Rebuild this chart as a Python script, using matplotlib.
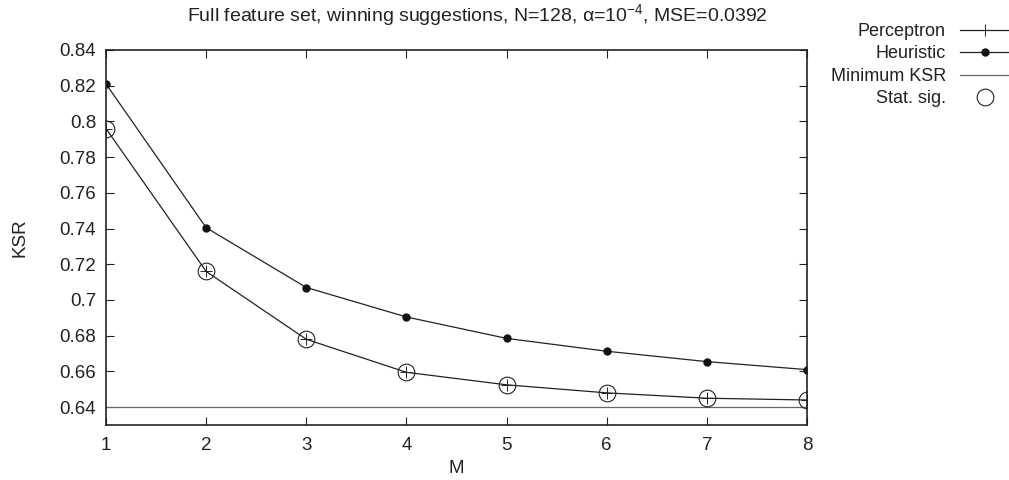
import matplotlib
matplotlib.use("Agg")
import matplotlib.pyplot as plt

plt.rcParams['font.family'] = ['Liberation Sans', 'DejaVu Sans']
plt.rcParams['mathtext.fontset'] = 'custom'
plt.rcParams['mathtext.rm'] = 'Liberation Sans'
plt.rcParams['mathtext.it'] = 'Liberation Sans:italic'

M = [1, 2, 3, 4, 5, 6, 7, 8]
perceptron = [0.796, 0.716, 0.678, 0.6595, 0.6525, 0.648, 0.645, 0.644]
heuristic = [0.821, 0.7405, 0.707, 0.6905, 0.6785, 0.6713, 0.6655, 0.661]
min_ksr = 0.6402
yticks = [0.64, 0.66, 0.68, 0.70, 0.72, 0.74, 0.76, 0.78, 0.80, 0.82, 0.84]
ytick_labels = ['0.64', '0.66', '0.68', '0.7', '0.72', '0.74', '0.76', '0.78', '0.8', '0.82', '0.84']

fig = plt.figure(figsize=(10.09, 4.8), dpi=100)
ax = fig.add_axes([106/1009, 1-425/480, (807-106)/1009, (425-50)/480])

ink = '#222222'
lw = 0.9
ax.plot(M, perceptron, color=ink, lw=lw, marker='+', markersize=8, markeredgewidth=0.7, label='Perceptron')
ax.plot(M, heuristic, color=ink, lw=lw, marker='o', markersize=5, markerfacecolor='#111111',
        markeredgecolor='#111111', label='Heuristic')
ax.plot([M[0], M[-1]], [min_ksr, min_ksr], color='#666666', lw=lw, label='Minimum KSR')
ax.plot(M, perceptron, linestyle='none', marker='o', markersize=12, markerfacecolor='none',
        markeredgecolor=ink, markeredgewidth=0.8, label='Stat. sig.')

ax.set_xlim(1, 8)
ax.set_ylim(0.63, 0.84)
ax.set_xticks(M)
ax.set_yticks(yticks)
ax.set_yticklabels(ytick_labels)
ax.tick_params(direction='in', top=True, right=True, length=6, width=0.8, labelsize=13.5, colors=ink)
ax.tick_params(axis='x', pad=9)
ax.tick_params(axis='y', pad=7)
for s in ax.spines.values():
    s.set_linewidth(1.2)
    s.set_color(ink)

ax.set_xlabel('M', fontsize=13.5, color=ink, labelpad=4)
ax.set_ylabel('KSR', fontsize=13.5, color=ink, labelpad=22)
fig.text(477/1009, 1 - 15/480, 'Full feature set, winning suggestions, N=128, α=10$^{-4}$, MSE=0.0392',
         fontsize=14, color=ink, ha='center', va='center')

leg = fig.legend(*ax.get_legend_handles_labels(), loc='upper right',
                 bbox_to_anchor=(1.0, 1 - 23/480), bbox_transform=fig.transFigure,
                 frameon=False, markerfirst=False, fontsize=13, handlelength=2.7,
                 labelspacing=0.3, handletextpad=0.8, borderpad=0, borderaxespad=0)
for t in leg.get_texts():
    t.set_ha('right')
    t.set_color(ink)

fig.savefig('out.png', dpi=100)
